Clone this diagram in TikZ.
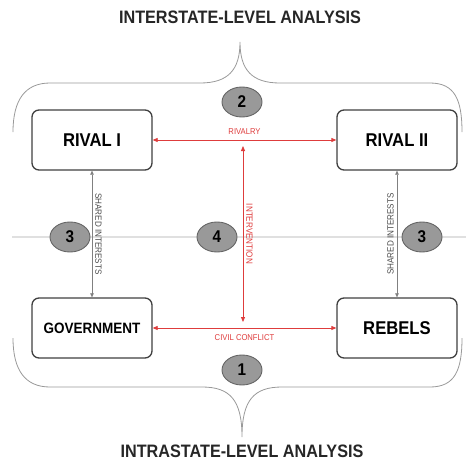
\documentclass[tikz,border=0pt]{standalone}
\usepackage{fontspec}
\setmainfont{Liberation Sans}[FakeStretch=0.9]
\usepackage{tikz}
\usetikzlibrary{shapes.geometric, arrows.meta, positioning}
\usepackage{xcolor}
\definecolor{conflictred}{RGB}{222,60,60}

\begin{document}
\begin{tikzpicture}[
  x=1pt, y=-1pt,
  >=Stealth,
  actor/.style={
    rectangle, draw=black!75, line width=1.3pt, rounded corners=7pt,
    fill=white, minimum width=120pt, minimum height=60pt,
    font=\fontsize{18.5}{20}\selectfont\bfseries
  },
  blob/.style={
    ellipse, draw=black!60, line width=0.9pt, fill=black!40,
    minimum width=40pt, minimum height=30pt, inner sep=0pt,
    font=\fontsize{17}{18}\selectfont\bfseries
  },
  redarrow/.style={{Triangle[length=5pt,width=4pt]}-{Triangle[length=5pt,width=4pt]}, color=conflictred, line width=0.8pt},
  grayarrow/.style={{Triangle[length=4pt,width=3.5pt]}-{Triangle[length=4pt,width=3.5pt]}, color=black!50, line width=0.6pt},
  tag/.style={font=\fontsize{8.5}{9}\selectfont, inner sep=1pt},
  sidetag/.style={font=\fontsize{9}{10}\selectfont, inner sep=3pt, anchor=south},
  headline/.style={font=\fontsize{18}{20}\selectfont\bfseries, text=black!85, inner sep=0pt},
  brace/.style={draw=black!40, line width=0.8pt}
]
\useasboundingbox (0,0) rectangle (466,461);

% Middle guide line
\draw[black!12, line width=1.6pt] (12,237) -- (466,237);

% Braces
\draw[brace] (13,132) .. controls (13,100) and (25,83) .. (50,83) -- (200,83)
  .. controls (228,83) and (240,70) .. (240,42)
  .. controls (240,70) and (252,83) .. (280,83) -- (430,83)
  .. controls (455,83) and (462,100) .. (462,132);
\draw[brace] (13,338) .. controls (13,370) and (25,387) .. (50,387) -- (202,387)
  .. controls (230,387) and (242,400) .. (242,437)
  .. controls (242,400) and (254,387) .. (282,387) -- (430,387)
  .. controls (455,387) and (462,370) .. (462,338);

% Titles
\node[headline] (intertitle) at (240,17) {INTERSTATE-LEVEL ANALYSIS};
\node[headline] (intratitle) at (242,451) {INTRASTATE-LEVEL ANALYSIS};

% Actors
\node[actor] (rival1) at (92,140) {RIVAL I};
\node[actor] (rival2) at (397,140) {RIVAL II};
\node[actor, font=\fontsize{15}{16}\selectfont\bfseries] (gov) at (92,328) {GOVERNMENT};
\node[actor] (rebels) at (397,328) {REBELS};

% Relations
\draw[redarrow] (rival1) -- node[tag, above=4pt, text=conflictred] (rivalry) {RIVALRY} (rival2);
\draw[redarrow] (gov) -- node[tag, below=5pt, text=conflictred] (civil) {CIVIL CONFLICT} (rebels);
\coordinate (rivmid) at (243,140);
\coordinate (civmid) at (243,328);
\draw[redarrow, shorten <=6pt, shorten >=6pt] (rivmid) -- node[sidetag, rotate=-90, text=conflictred] (interv) {INTERVENTION} (civmid);
\draw[grayarrow] (rival1) -- node[sidetag, rotate=-90, text=black!70] (shared1) {SHARED INTERESTS} (gov);
\draw[grayarrow] (rival2) -- node[sidetag, rotate=90, text=black!70] (shared2) {SHARED INTERESTS} (rebels);

% Levels
\node[blob] (lvl2) at (242,102) {2};
\node[blob] (lvl1) at (242,370) {1};
\node[blob] (lvl3a) at (70,237) {3};
\node[blob] (lvl4) at (217,237) {4};
\node[blob] (lvl3b) at (422,237) {3};

\end{tikzpicture}
\end{document}
